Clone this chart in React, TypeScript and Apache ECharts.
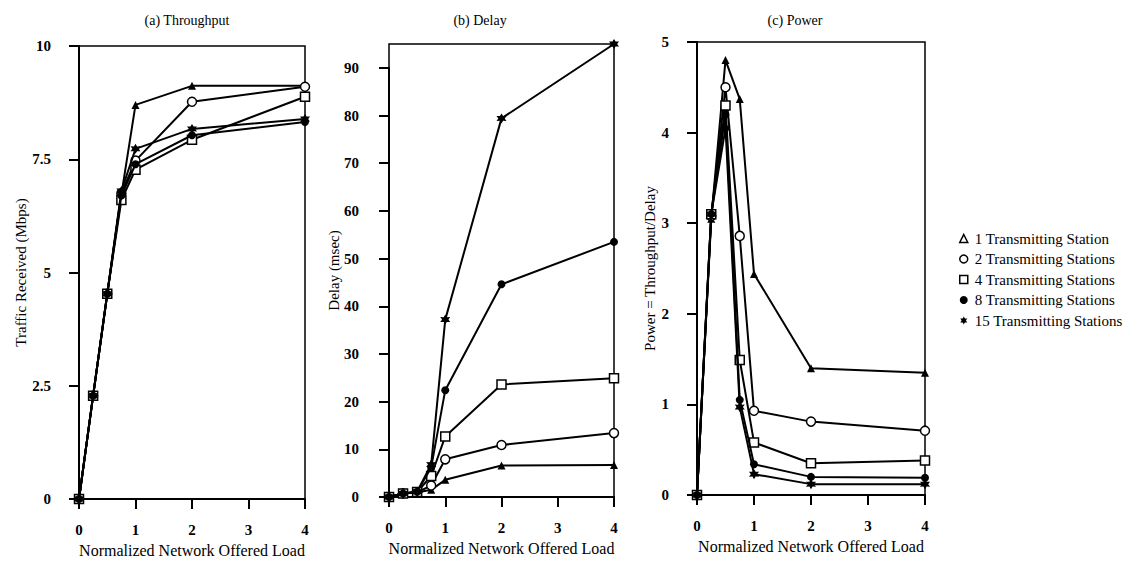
import React, { useEffect, useRef } from 'react';
import * as echarts from 'echarts';

// ---------- data ----------
const loads = [0, 0.25, 0.5, 0.75, 1, 2, 4];
const stationNames = [
  '1 Transmitting Station',
  '2 Transmitting Stations',
  '4 Transmitting Stations',
  '8 Transmitting Stations',
  '15 Transmitting Stations',
];
const throughput1 = [0, 2.28, 4.53, 6.72, 8.7, 9.12, 9.12];
const throughput2 = [0, 2.28, 4.53, 6.75, 7.47, 8.77, 9.1];
const throughput4 = [0, 2.28, 4.53, 6.6, 7.27, 7.93, 8.88];
const throughput8 = [0, 2.28, 4.53, 6.7, 7.39, 8.03, 8.32];
const throughput15 = [0, 2.28, 4.53, 6.8, 7.73, 8.17, 8.39];

const delay1 = [0, 0.75, 0.95, 1.5, 3.6, 6.6, 6.7];
const delay2 = [0, 0.75, 1.0, 2.4, 7.9, 10.9, 13.4];
const delay4 = [0, 0.75, 1.05, 4.4, 12.7, 23.6, 24.9];
const delay8 = [0, 0.75, 1.1, 6.2, 22.4, 44.6, 53.5];
const delay15 = [0, 0.75, 1.1, 6.8, 37.2, 79.4, 95];

const power1 = [0, 3.05, 4.8, 4.37, 2.44, 1.4, 1.35];
const power2 = [0, 3.08, 4.5, 2.86, 0.93, 0.81, 0.71];
const power4 = [0, 3.1, 4.3, 1.49, 0.58, 0.35, 0.38];
const power8 = [0, 3.1, 4.2, 1.05, 0.34, 0.2, 0.19];
const power15 = [0, 3.1, 4.05, 0.97, 0.23, 0.12, 0.12];

const throughputTicks = { min: 0, max: 10, interval: 2.5 };
const delayTicks = { min: 0, max: 90, interval: 10, dataMax: 95 };
const powerTicks = { min: 0, max: 5, interval: 1 };
const loadTicks = { min: 0, max: 4, interval: 1 };

const panelTitles = ['(a) Throughput', '(b) Delay', '(c) Power'];
const xName = 'Normalized Network Offered Load';
const yNames = ['Traffic Received (Mbps)', 'Delay (msec)', 'Power = Throughput/Delay'];

// ---------- styles ----------
const FONT = 'Liberation Serif';
const STAR = 'path://M10 0 L12.75 5.24 L18.66 5 L15.5 10 L18.66 15 L12.75 14.76 L10 20 L7.25 14.76 L1.34 15 L4.5 10 L1.34 5 L7.25 5.24 Z';

const hollow = { color: '#fff', borderColor: '#000', borderWidth: 1.5 };
const filled = { color: '#000', borderColor: '#000', borderWidth: 0 };

const markerStyles = [
  { symbol: 'triangle', size: 8, item: filled, legendIcon: 'triangle', legendItem: hollow },
  { symbol: 'circle', size: 9, item: hollow, legendIcon: 'circle', legendItem: hollow },
  { symbol: 'rect', size: 9, item: hollow, legendIcon: 'rect', legendItem: hollow },
  { symbol: 'circle', size: 8, item: filled, legendIcon: 'circle', legendItem: filled },
  { symbol: STAR, size: 10, item: filled, legendIcon: STAR, legendItem: filled },
];

const GRID_H = 453;
const grids = [
  { left: 79, top: 46, width: 226 },
  { left: 389, top: 44, width: 225 },
  { left: 697, top: 42, width: 228 },
];

export default function App() {
  const ref = useRef<HTMLDivElement>(null);

  useEffect(() => {
    if (!ref.current) return;
    const chart = echarts.init(ref.current, undefined, { renderer: 'svg' });

    const panels = [
      [throughput1, throughput2, throughput4, throughput8, throughput15],
      [delay1, delay2, delay4, delay8, delay15],
      [power1, power2, power4, power8, power15],
    ];

    const series: any[] = [];
    panels.forEach((sets, p) => {
      sets.forEach((vals, s) => {
        const m = markerStyles[s];
        series.push({
          type: 'line',
          name: stationNames[s],
          xAxisIndex: p,
          yAxisIndex: p,
          data: loads.map((x, i) => [x, vals[i]]),
          symbol: m.symbol,
          symbolSize: m.size,
          showAllSymbol: true,
          clip: false,
          itemStyle: m.item,
          lineStyle: { color: '#000', width: 2 },
          emphasis: { disabled: true },
          z: 2 + s,
        });
      });
    });

    const axisLine = { show: true, lineStyle: { color: '#000', width: 2 } };
    const axisTickOut = { show: true, inside: false, length: 10, lineStyle: { color: '#000', width: 2 } };
    const tickLabel = { color: '#000', fontFamily: FONT, fontSize: 15, fontWeight: 'bold' as const };
    const nameStyle = { color: '#000', fontFamily: FONT, fontSize: 15 };

    const delayAxisTop = grids[1].top + (GRID_H * (delayTicks.dataMax - delayTicks.max)) / delayTicks.dataMax;
    const delayAxisH = (GRID_H * delayTicks.max) / delayTicks.dataMax;

    const gridBase = { show: true, borderColor: '#000', borderWidth: 1.5, backgroundColor: 'transparent', containLabel: false };

    const xAxes: any[] = [0, 1, 2].map((g) => ({
      type: 'value',
      gridIndex: g,
      min: loadTicks.min,
      max: loadTicks.max,
      interval: loadTicks.interval,
      offset: 9,
      axisLine,
      axisTick: axisTickOut,
      axisLabel: { ...tickLabel, margin: 14 },
      splitLine: { show: false },
      name: xName,
      nameLocation: 'middle',
      nameGap: 34,
      nameTextStyle: { ...nameStyle, fontSize: 16 },
    }));
    xAxes.push({ type: 'value', gridIndex: 3, min: 0, max: 4, show: false });

    const yAxes: any[] = [
      {
        type: 'value',
        gridIndex: 0,
        min: throughputTicks.min,
        max: throughputTicks.max,
        interval: throughputTicks.interval,
        offset: 11,
        axisLine,
        axisTick: axisTickOut,
        axisLabel: { ...tickLabel, margin: 17 },
        splitLine: { show: false },
        name: yNames[0],
        nameLocation: 'middle',
        nameGap: 40,
        nameTextStyle: nameStyle,
      },
      {
        type: 'value',
        gridIndex: 1,
        min: delayTicks.min,
        max: delayTicks.dataMax,
        offset: 14,
        axisLine: { show: false },
        axisTick: { show: false },
        axisLabel: { show: false },
        splitLine: { show: false },
        name: yNames[1],
        nameLocation: 'middle',
        nameGap: 34,
        nameTextStyle: nameStyle,
      },
      {
        type: 'value',
        gridIndex: 2,
        min: powerTicks.min,
        max: powerTicks.max,
        interval: powerTicks.interval,
        offset: 12,
        axisLine,
        axisTick: axisTickOut,
        axisLabel: { ...tickLabel, margin: 16 },
        splitLine: { show: false },
        name: yNames[2],
        nameLocation: 'middle',
        nameGap: 28,
        nameTextStyle: nameStyle,
      },
      {
        type: 'value',
        gridIndex: 3,
        min: delayTicks.min,
        max: delayTicks.max,
        interval: delayTicks.interval,
        offset: 14,
        axisLine,
        axisTick: axisTickOut,
        axisLabel: { ...tickLabel, margin: 16 },
        splitLine: { show: false },
      },
    ];

    const titleX = [182, 475, 790];

    chart.setOption({
      animation: false,
      backgroundColor: '#fff',
      title: panelTitles.map((t, i) => ({
        text: t,
        left: titleX[i],
        top: 8,
        textAlign: 'center',
        textStyle: { color: '#000', fontFamily: FONT, fontSize: 14, fontWeight: 'normal' },
      })),
      legend: {
        orient: 'vertical',
        left: 954,
        top: 226,
        itemWidth: 8,
        itemHeight: 8,
        itemGap: 5.5,
        selectedMode: false,
        textStyle: { color: '#000', fontFamily: FONT, fontSize: 15, padding: [0, 0, 0, 2] },
        data: stationNames.map((n, i) => ({
          name: n,
          icon: markerStyles[i].legendIcon,
          itemStyle: markerStyles[i].legendItem,
        })),
      },
      grid: [
        ...grids.map((g) => ({ ...gridBase, left: g.left, top: g.top, width: g.width, height: GRID_H })),
        { show: false, left: grids[1].left, top: delayAxisTop, width: grids[1].width, height: delayAxisH },
      ],
      xAxis: xAxes,
      yAxis: yAxes,
      series,
    });

    return () => chart.dispose();
  }, []);

  return (
    <div
      ref={ref}
      style={{ position: 'fixed', left: 0, top: 0, width: 1135, height: 565, background: '#fff' }}
    />
  );
}
